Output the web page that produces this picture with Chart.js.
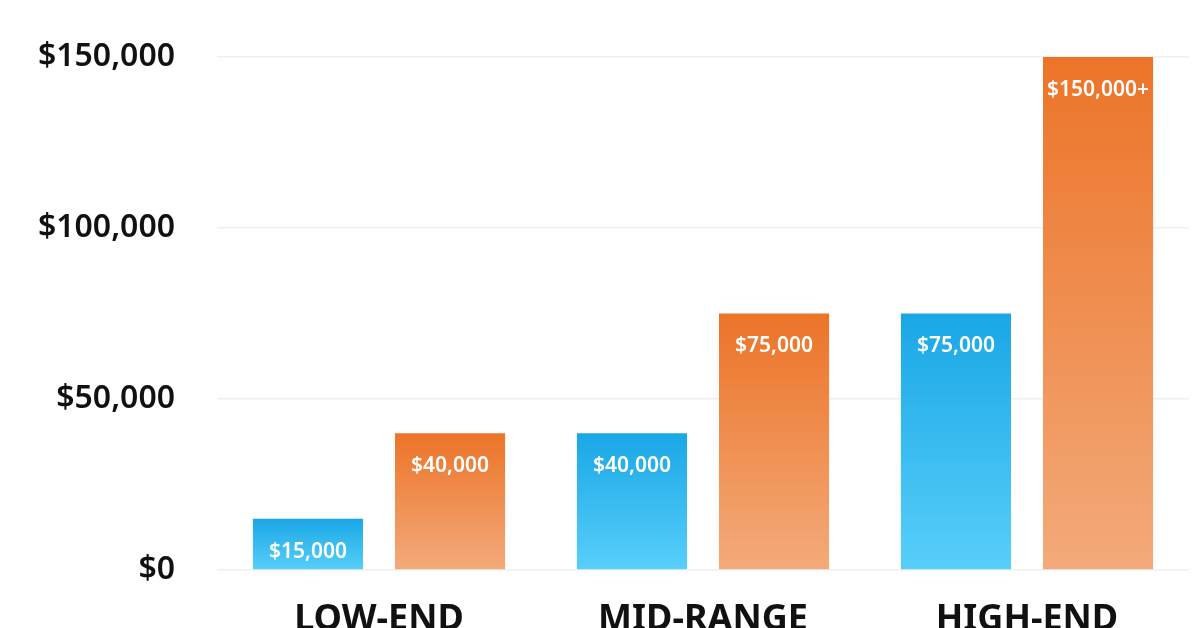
<!DOCTYPE html>
<html>
<head>
<meta charset="utf-8">
<script src="https://cdn.jsdelivr.net/npm/chart.js@4.4.1/dist/chart.umd.min.js"></script>
<style>
  html, body { margin: 0; padding: 0; background: #fff; overflow: hidden; }
  #wrap { width: 1196px; height: 680px; }
</style>
</head>
<body>
<div id="wrap"><canvas id="price-chart"></canvas></div>
<script>
// Data

const categories = ['LOW-END', 'MID-RANGE', 'HIGH-END'];
const minPrices = [15000, 40000, 75000];
const maxPrices = [40000, 75000, 150000];
const minLabels = ['$15,000', '$40,000', '$75,000'];
const maxLabels = ['$40,000', '$75,000', '$150,000+'];
const yTicks = [0, 50000, 100000, 150000];

const font = '"Noto Sans", "Open Sans", sans-serif';

// vertical gradient for each bar, from its top down to the zero line
function barGradient(top, bottom) {
  return (ctx) => {
    const chart = ctx.chart;
    const y = chart.scales.y;
    if (!chart.chartArea || !y) return top;
    const yTop = y.getPixelForValue(ctx.raw);
    const yBottom = y.getPixelForValue(0);
    const g = chart.ctx.createLinearGradient(0, yTop, 0, yBottom);
    g.addColorStop(0, top);
    g.addColorStop(1, bottom);
    return g;
  };
}

// white value labels inside the top of each bar
const barLabels = {
  id: 'barLabels',
  afterDatasetsDraw(chart) {
    const ctx = chart.ctx;
    const texts = [minLabels, maxLabels];
    ctx.save();
    ctx.fillStyle = '#ffffff';
    ctx.font = '600 21px ' + font;
    ctx.textAlign = 'center';
    ctx.textBaseline = 'middle';
    chart.data.datasets.forEach((ds, i) => {
      chart.getDatasetMeta(i).data.forEach((bar, j) => {
        ctx.fillText(texts[i][j], bar.x, bar.y + 33);
      });
    });
    ctx.restore();
  }
};

const priceChart = new Chart(document.querySelector('#price-chart'), {
  type: 'bar',
  data: {
    labels: categories,
    datasets: [{
      data: minPrices,
      backgroundColor: barGradient('#1aa7e6', '#58cffa'),
      borderWidth: 0
    }, {
      data: maxPrices,
      backgroundColor: barGradient('#ec7428', '#f3aa7a'),
      borderWidth: 0
    }]
  },
  options: {
    responsive: true,
    maintainAspectRatio: false,
    animation: false,
    categoryPercentage: 0.877,
    barPercentage: 0.775,
    layout: {
      padding: { top: 57, right: 7, bottom: 0, left: 0 }
    },
    scales: {
      x: {
        grid: { display: false },
        border: { display: false },
        ticks: {
          color: '#111',
          padding: 20,
          font: { family: font, size: 36, weight: 'bold' }
        },
        afterFit: (axis) => { axis.height = 110; }
      },
      y: {
        min: 0,
        max: 150000,
        afterBuildTicks: (axis) => { axis.ticks = yTicks.map(v => ({ value: v })); },
        grid: { color: '#f0f0f0', lineWidth: 1.5, drawTicks: false },
        border: { display: false },
        ticks: {
          color: '#111',
          padding: 42,
          font: { family: font, size: 32, weight: '600', lineHeight: 0.8 },
          callback: (v) => '$' + v.toLocaleString('en-US')
        },
        afterFit: (axis) => { axis.width = 217; }
      }
    },
    plugins: {
      legend: { display: false },
      tooltip: { enabled: false }
    }
  },
  plugins: [barLabels]
});
</script>
</body>
</html>
